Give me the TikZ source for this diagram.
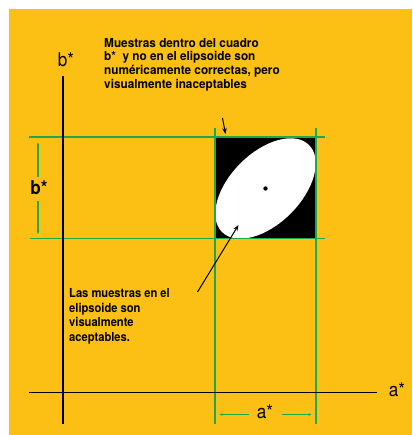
\documentclass[tikz,border=0pt]{standalone}
\usepackage{fontspec}
\setmainfont{TeX Gyre Heros}[FakeStretch=0.9]
\newfontfamily\widefont{TeX Gyre Heros}[FakeStretch=0.95]
\usetikzlibrary{arrows.meta}
\definecolor{bgyel}{RGB}{252,192,21}
\definecolor{grn}{RGB}{30,168,72}
\tikzset{
  axisline/.style={black, line width=1.5pt},
  gridline/.style={grn, line width=1.6pt},
  dimline/.style={grn, line width=1.1pt, -{Stealth[length=3pt,width=2.6pt]}},
  callout/.style={black, line width=1pt, -{Stealth[length=6pt,width=4.5pt]}},
  note/.style={anchor=north west, inner sep=0pt, align=left, font=\bfseries\fontsize{12.4}{14.5}\selectfont},
  axlabel/.style={inner sep=0pt, font=\fontsize{19}{19}\selectfont},
}
\begin{document}
\begin{tikzpicture}[x=1pt,y=-1pt]
\useasboundingbox (0,0) rectangle (412,435);
\fill[white] (0,0) rectangle (412,435);
\fill[bgyel] (9,9) rectangle (412,435);

% coordinates
\coordinate (byT) at (63,76);
\coordinate (byB) at (63,424);
\coordinate (axL) at (29,392.5);
\coordinate (axR) at (377,392.5);
\coordinate (hTL) at (29,137.2);
\coordinate (hTR) at (325,137.2);
\coordinate (hBL) at (30,238.5);
\coordinate (hBR) at (325,238.5);
\coordinate (vLT) at (215,128);
\coordinate (vLB) at (215,424);
\coordinate (vRT) at (316,128);
\coordinate (vRB) at (316,424);
\coordinate (ctr) at (265.5,188.5);

% black square with white ellipse
\fill[black] (215,137.2) rectangle (316,238.5);
\fill[white, rotate around={45:(ctr)}] (ctr) ellipse [x radius=61.5pt, y radius=35.5pt];
\fill[black] (ctr) circle [radius=2.2pt];

% green lines
\draw[gridline] (hTL) -- (hTR);
\draw[gridline] (hBL) -- (hBR);
\draw[gridline] (vLT) -- (vLB);
\draw[gridline] (vRT) -- (vRB);

% axes
\draw[axisline] (byT) -- (byB);
\draw[axisline] (axL) -- (axR);
\node[axlabel] (bstar) at (66,60) {b*};
\node[axlabel] (astar) at (397,390) {a*};

% dimension b*
\node[axlabel, font=\bfseries\fontsize{19}{19}\selectfont] (bdim) at (39,188) {b*};
\coordinate (bdT) at (38,142.5);
\coordinate (bdB) at (38,234);
\draw[dimline] (38,177) -- (bdT);
\draw[dimline] (38,201) -- (bdB);

% dimension a*
\node[axlabel] (adim) at (265,412) {a*};
\coordinate (adL) at (219.5,414.5);
\coordinate (adR) at (311.5,414.5);
\draw[dimline] (249,414.5) -- (adL);
\draw[dimline] (282,414.5) -- (adR);

% notes
\node[note, font=\widefont\bfseries\fontsize{12.4}{13.7}\selectfont] (top) at (104,38) {Muestras dentro del cuadro\\b*\ \ y no en el elipsoide son\\num\'ericamente correctas, pero\\visualmente inaceptables};
\node[note] (low) at (69,288.5) {Las muestras en el\\elipsoide son\\visualmente\\aceptables.};

% callouts
\coordinate (topA) at (222.5,118);
\coordinate (topB) at (225.5,134);
\draw[callout] (topA) -- (topB);
\coordinate (lowA) at (197.5,292);
\coordinate (lowB) at (238.5,225);
\draw[callout] (lowA) -- (lowB);
\end{tikzpicture}
\end{document}
